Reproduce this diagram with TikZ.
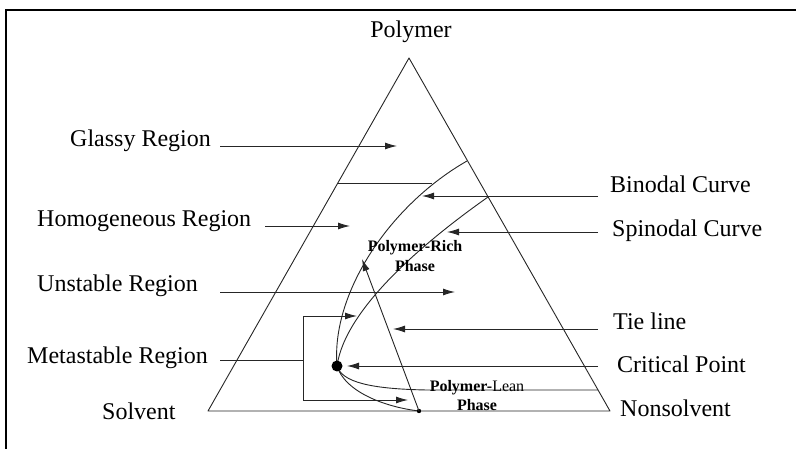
\documentclass[tikz,border=0pt]{standalone}
\usepackage{fontspec}
\setmainfont{Liberation Serif}
\usepackage{tikz}
\usetikzlibrary{arrows.meta,positioning}

\begin{document}
\begin{tikzpicture}[x=1pt,y=-1pt,
  lbl/.style={anchor=base west,inner sep=0pt,font=\fontsize{24}{26}\selectfont},
  phase/.style={inner sep=0pt,align=center,font=\fontsize{16}{19.5}\selectfont\bfseries},
  edge/.style={line width=0.9pt,black!85},
  arr/.style={edge,-{Latex[length=12pt,width=7pt]}}]
\useasboundingbox (0,0) rectangle (796,449);
\draw [line width=2pt] (6,449) -- (6,10) -- (796,10); % moldura
% triangulo
\coordinate (top) at (409,58);
\coordinate (sol) at (208,411);
\coordinate (nsol) at (610,411);
\draw [edge, line join=round] (top) -- (sol) -- (nsol) -- cycle;
\node [lbl, anchor=base] (polymer) at (411,38) {Polymer};
\node [lbl] (solvent) at (102,419) {Solvent};
\node [lbl] (nonsolvent) at (620,416) {Nonsolvent};
% regiao vitrea
\coordinate (gl) at (338,183);
\coordinate (gr) at (432,183);
\draw [edge] (gl) -- (gr);
\coordinate (crit) at (337,366);
\coordinate (lean) at (419,411);
\coordinate (rich) at (362,259);
% binodal
\draw [edge] (467,161) .. controls (390,205) and (331,293) .. (crit)
  .. controls (345,392) and (385,407) .. (lean);
% spinodal
\draw [edge] (488,197) .. controls (420,245) and (345,310) .. (crit)
  .. controls (342,382) and (370,389) .. (427,390) -- (598,390);
\fill (crit) circle [radius=5.5];
\fill (lean) circle [radius=2.2];
\draw [arr] (lean) -- (rich); % tie line
\node [phase] (richlbl) at (415,256) {Polymer-Rich\\Phase};
\node [phase] (leanlbl) at (477,395.5) {Polymer-{\mdseries Lean}\\Phase};
% rotulos da esquerda
\node [lbl] (glassy) at (70,147) {Glassy Region};
\node [lbl] (homog) at (37,227) {Homogeneous Region};
\node [lbl] (unstable) at (37,292) {Unstable Region};
\node [lbl] (meta) at (27,363) {Metastable Region};
\coordinate (g0) at (220,146);
\coordinate (g1) at (397,146);
\draw [arr] (g0) -- (g1);
\coordinate (h0) at (265,226);
\coordinate (h1) at (350,226);
\draw [arr] (h0) -- (h1);
\coordinate (u0) at (220,292);
\coordinate (u1) at (455,292);
\draw [arr] (u0) -- (u1);
\coordinate (m0) at (220,360);
\coordinate (m1) at (303,360);
\coordinate (mt) at (303,316);
\coordinate (mb) at (303,400);
\coordinate (mt1) at (357,316);
\coordinate (mb1) at (408,400);
\draw [edge] (m0) -- (m1);
\draw [edge, {Latex[length=12pt,width=7pt]}-{Latex[length=12pt,width=7pt]}] (mt1) -- (mt) -- (mb) -- (mb1);
% rotulos da direita
\node [lbl] (binodal) at (610,193) {Binodal Curve};
\node [lbl] (spinodal) at (612,237) {Spinodal Curve};
\node [lbl] (tie) at (613,330) {Tie line};
\node [lbl] (critical) at (617,373) {Critical Point};
\coordinate (b0) at (598,196);
\coordinate (b1) at (422,196);
\draw [arr] (b0) -- (b1);
\coordinate (s0) at (598,232);
\coordinate (s1) at (447,232);
\draw [arr] (s0) -- (s1);
\coordinate (t0) at (598,329);
\coordinate (t1) at (393,329);
\draw [arr] (t0) -- (t1);
\coordinate (c0) at (598,366);
\coordinate (c1) at (347,366);
\draw [arr] (c0) -- (c1);
\end{tikzpicture}
\end{document}
